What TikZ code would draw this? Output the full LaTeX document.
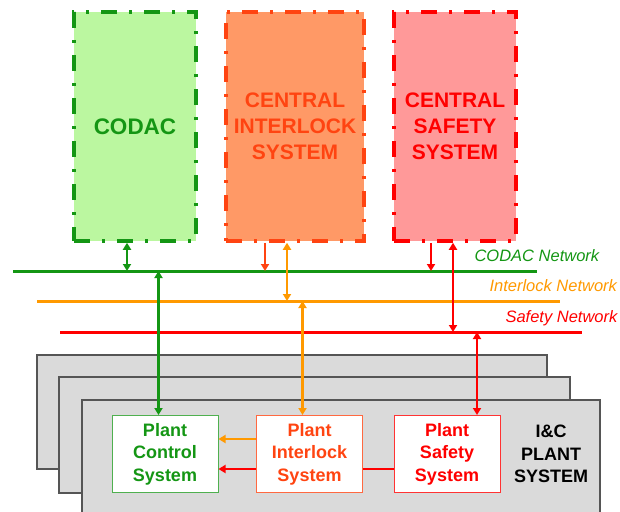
\documentclass[tikz,border=0pt]{standalone}
\usepackage{fontspec}
\setmainfont{Liberation Sans}
\usetikzlibrary{arrows.meta}
\definecolor{codacgreen}{RGB}{20,150,20}
\definecolor{codacfill}{RGB}{187,247,160}
\definecolor{cisred}{RGB}{255,68,17}
\definecolor{cisfill}{RGB}{255,153,102}
\definecolor{safered}{RGB}{255,0,0}
\definecolor{cssfill}{RGB}{255,153,153}
\definecolor{ilkorange}{RGB}{255,153,0}
\definecolor{stackgrey}{RGB}{218,218,218}
\definecolor{stackborder}{RGB}{85,85,85}
\begin{document}
\begin{tikzpicture}[x=1pt,y=-1pt,>={Triangle[width=8pt,length=7pt]},
                central/.style={draw,line width=3.5pt,dash pattern=on 16pt off 12pt on 3pt off 12pt,minimum height=229pt,align=center,font=\bfseries\fontsize{21}{26}\selectfont},
                plant/.style={draw,fill=white,line width=1pt,minimum width=106pt,minimum height=77pt,align=center,font=\bfseries\fontsize{18}{22.5}\selectfont},
                net/.style={line width=3pt},
                link/.style={line width=2.7pt},
                netlabel/.style={anchor=base west,font=\itshape\fontsize{16.5}{20}\selectfont},
                stack/.style={draw=stackborder,fill=stackgrey,line width=1.2pt}]
                \useasboundingbox (0,0) rectangle (620,511);
                \node[central,draw=codacgreen,fill=codacfill,text=codacgreen,minimum width=122pt,font=\bfseries\fontsize{22.5}{26}\selectfont] (codac) at (135,126.5) {CODAC};
                \node[central,draw=cisred,fill=cisfill,text=cisred,minimum width=138pt] (cis) at (295,126.5) {CENTRAL\\INTERLOCK\\SYSTEM};
                \node[central,draw=safered,fill=cssfill,text=safered,minimum width=122pt] (css) at (455,126.5) {CENTRAL\\SAFETY\\SYSTEM};
                \foreach \n/\c/\y/\xa/\xb/\t/\lx in {codac/codacgreen/271/13/537/CODAC/471,ilk/ilkorange/301/37/560/Interlock/486,safe/safered/332/60/582/Safety/502}{
                    \coordinate (\n W) at (\xa,\y);
                    \coordinate (\n E) at (\xb,\y);
                    \draw[net,\c] (\n W) -- (\n E);
                    \node[netlabel,text=\c] (\n lbl) at (\lx,\y-10) {\t{} Network};
                }
                \draw[stack] (37,355) rectangle (547,469);
                \draw[stack] (59,377) rectangle (570,493);
                \draw[stack] (82,400) rectangle (600,520);
                \node[plant,draw=codacgreen!75!white,text=codacgreen] (pcs) at (165,454) {Plant\\Control\\System};
                \node[plant,draw=cisred!80!white,text=cisred] (pis) at (309.5,454) {Plant\\Interlock\\System};
                \node[plant,draw=safered!80!white,text=safered] (pss) at (447,454) {Plant\\Safety\\System};
                \node[align=center,font=\bfseries\fontsize{18}{22.5}\selectfont] (icplant) at (551,454) {I\&C\\PLANT\\SYSTEM};
                \draw[link,<->,codacgreen] ([xshift=-8pt]codac.south) -- ([xshift=-8pt]codac.south |- codacW);
                \draw[link,<->,codacgreen] ([xshift=-6.5pt]pcs.north |- codacW) -- ([xshift=-6.5pt]pcs.north);
                \draw[link,->,cisred] ([xshift=-30pt]cis.south) -- ([xshift=-30pt]cis.south |- codacW);
                \draw[link,<->,ilkorange] ([xshift=-8pt]cis.south) -- ([xshift=-8pt]cis.south |- ilkW);
                \draw[link,<->,ilkorange] ([xshift=-7pt]pis.north |- ilkW) -- ([xshift=-7pt]pis.north);
                \draw[link,->,safered] ([xshift=-24pt]css.south) -- ([xshift=-24pt]css.south |- codacW);
                \draw[link,<->,safered] ([xshift=-2pt]css.south) -- ([xshift=-2pt]css.south |- safeW);
                \draw[link,<->,safered] ([xshift=30pt]pss.north |- safeW) -- ([xshift=30pt]pss.north);
                \draw[link,->,ilkorange] ([yshift=15pt]pis.west) -- ([yshift=15pt]pcs.east);
                \draw[link,safered] ([yshift=-15pt]pss.west) -- ([yshift=-15pt]pis.east);
                \draw[link,->,safered] ([yshift=-15pt]pis.west) -- ([yshift=-15pt]pcs.east);
            \end{tikzpicture}
\end{document}
